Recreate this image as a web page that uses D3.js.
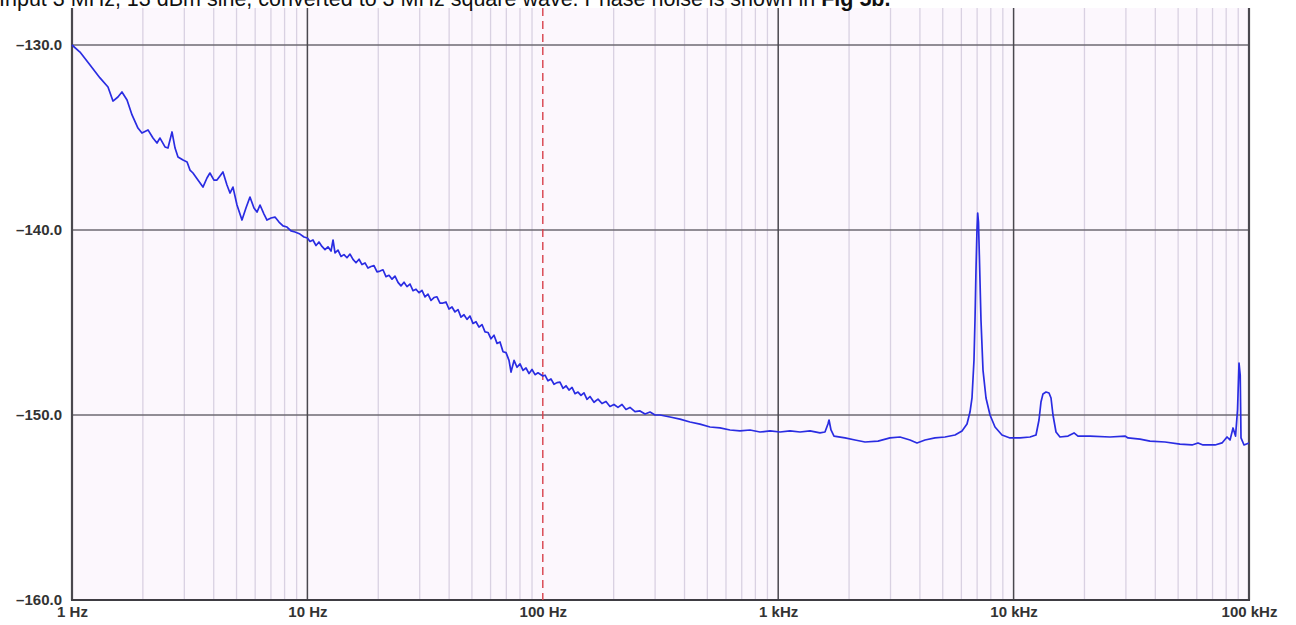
<!DOCTYPE html>
<html>
<head>
<meta charset="utf-8">
<script src="https://cdn.jsdelivr.net/npm/d3@7/dist/d3.min.js"></script>
<style>
  html, body { margin: 0; padding: 0; background: #ffffff; overflow: hidden; }
  svg { display: block; }
</style>
</head>
<body>
<svg id="chart" width="1296" height="625"></svg>
<script>
// ---- Data ----
const titleText = "Input 3 MHz, 13 dBm sine, converted to 3 MHz square wave. Phase noise is shown in ";
const titleBold = "Fig 5b.";

const yTicks = [-160, -150, -140, -130];
const yTickLabels = ["–160.0", "–150.0", "–140.0", "–130.0"];
const xMajorTicks = [1, 10, 100, 1000, 10000, 100000];
const xTickLabels = ["1 Hz", "10 Hz", "100 Hz", "1 kHz", "10 kHz", "100 kHz"];
const markerFreq = 100;

// frequency (Hz)
const freqHz = [
  1.000, 1.081, 1.193, 1.315, 1.422, 1.493, 1.567, 1.630, 1.713, 1.799,
  1.906, 1.982, 2.103, 2.208, 2.296, 2.365, 2.484, 2.557, 2.660, 2.740,
  2.820, 2.963, 3.082, 3.171, 3.265, 3.428, 3.600, 3.744, 3.854, 4.009,
  4.128, 4.253, 4.378, 4.553, 4.690, 4.829, 5.022, 5.273, 5.483, 5.702,
  5.930, 6.108, 6.291, 6.541, 6.736, 7.004, 7.284, 7.575, 7.877, 8.191,
  8.518, 8.858, 9.300, 9.671,
  10.00, 10.26, 10.56, 10.88, 11.20, 11.53, 11.88, 12.23, 12.60, 12.85,
  13.10, 13.49, 13.89, 14.30, 14.73, 15.17, 15.62, 16.09, 16.57, 17.06,
  17.57, 18.09, 18.63, 19.18, 19.76, 20.34, 20.95, 21.57, 22.22, 22.88,
  23.56, 24.26, 24.98, 25.73, 26.49, 27.28, 28.09, 28.93, 29.79, 30.67,
  31.59, 32.53, 33.50, 34.49, 35.52, 36.58, 37.67, 38.79, 39.94, 41.14,
  42.36, 43.62, 44.92, 46.26, 47.64, 49.05, 50.51, 52.02, 53.58, 55.17,
  56.82, 58.51, 60.26, 62.05, 63.90, 65.80, 67.77, 69.79, 71.86, 73.29,
  75.47, 77.71, 80.03, 82.41, 84.86, 87.39, 89.99, 92.67, 95.42,
  100.0, 102.2, 105.2, 108.3, 111.6, 114.9, 118.3, 121.9, 125.5, 129.2,
  133.1, 137.0, 141.1, 145.3, 149.6, 154.1, 158.7, 165.0, 171.6, 178.4,
  185.5, 192.9, 200.6, 208.6, 217.0, 225.6, 234.6, 246.4, 258.8, 271.8,
  285.4, 299.7, 314.8,
  347.0, 382.6, 421.9, 465.3, 513.2, 565.9, 624.2, 688.2, 759.0, 837.0,
  923.0, 1018, 1122, 1238, 1365, 1505, 1580, 1627, 1644, 1676,
  1726, 1922, 2120, 2338, 2655, 2985, 3291, 3630, 3887, 4204,
  4636, 5112, 5638, 6037, 6339, 6528, 6657, 6788, 6855, 6922,
  6989, 7038, 7093, 7162, 7268, 7413, 7634, 7940, 8337, 8926,
  9654, 10650, 11740, 12450, 12820, 13070, 13330, 13730, 14140, 14420,
  14700, 15140, 15740, 17030, 18060, 18770, 21120, 25670, 29730, 30620,
  34430, 37960, 43980, 50920, 57280, 60720, 63780, 71730, 76810, 80660,
  83070, 85540, 87650, 89380, 90700, 91770, 92480, 95240, 100000
];

// phase noise (dBc/Hz)
const noiseDb = [
  -130.00, -130.38, -131.08, -131.78, -132.27, -133.03, -132.81, -132.54, -132.97, -133.78,
  -134.49, -134.76, -134.59, -135.03, -135.30, -135.03, -135.51, -135.57, -134.70, -135.57,
  -136.05, -136.22, -136.32, -136.76, -136.92, -137.30, -137.68, -137.19, -136.92, -137.30,
  -137.30, -137.08, -136.86, -137.57, -138.00, -137.68, -138.65, -139.46, -138.81, -138.22,
  -138.81, -139.03, -138.65, -139.14, -139.46, -139.35, -139.30, -139.57, -139.78, -139.84,
  -140.05, -140.11, -140.22, -140.38,
  -140.43, -140.62, -140.54, -140.84, -140.65, -140.89, -141.06, -140.91, -141.14, -140.54,
  -141.24, -141.09, -141.43, -141.33, -141.50, -141.30, -141.59, -141.77, -141.58, -141.87,
  -141.78, -142.06, -141.97, -141.92, -142.26, -142.22, -142.15, -142.52, -142.45, -142.66,
  -142.49, -142.83, -143.02, -142.82, -143.06, -142.92, -143.28, -143.20, -143.39, -143.26,
  -143.62, -143.47, -143.81, -143.65, -143.61, -143.95, -143.95, -143.89, -144.27, -144.16,
  -144.43, -144.30, -144.71, -144.58, -144.83, -144.65, -145.05, -144.96, -145.25, -145.11,
  -145.51, -145.54, -145.88, -145.69, -146.13, -146.05, -146.58, -146.63, -147.05, -147.68,
  -147.05, -147.42, -147.24, -147.59, -147.46, -147.76, -147.54, -147.82, -147.72,
  -147.89, -147.85, -148.15, -148.05, -148.34, -148.25, -148.22, -148.56, -148.42, -148.65,
  -148.51, -148.85, -148.76, -148.94, -148.80, -149.15, -149.00, -149.31, -149.14, -149.38,
  -149.27, -149.54, -149.43, -149.59, -149.43, -149.70, -149.59, -149.82, -149.78, -149.95,
  -149.84, -150.00, -150.00,
  -150.11, -150.22, -150.38, -150.49, -150.65, -150.70, -150.81, -150.86, -150.81, -150.92,
  -150.86, -150.92, -150.86, -150.92, -150.86, -150.97, -150.92, -150.49, -150.27, -150.81,
  -151.14, -151.24, -151.35, -151.46, -151.41, -151.24, -151.19, -151.35, -151.51, -151.35,
  -151.24, -151.19, -151.08, -150.86, -150.49, -149.84, -149.08, -147.03, -144.86, -142.16,
  -140.00, -139.08, -139.57, -141.62, -144.86, -147.57, -149.08, -150.00, -150.65, -151.08,
  -151.24, -151.24, -151.19, -151.08, -150.27, -149.30, -148.86, -148.76, -148.81, -149.08,
  -150.00, -150.92, -151.19, -151.14, -150.97, -151.14, -151.14, -151.19, -151.14, -151.24,
  -151.30, -151.41, -151.46, -151.57, -151.62, -151.51, -151.62, -151.62, -151.51, -151.19,
  -151.35, -150.70, -151.14, -149.73, -147.19, -147.84, -151.24, -151.62, -151.51
];

// ---- Drawing ----
const svg = d3.select("#chart");
const plotLeft = 72, plotRight = 1249, plotTop = 8, plotBottom = 600;
const fontFamily = "Liberation Sans, Arial, sans-serif";

const x = d3.scaleLog().domain([1, 100000]).range([plotLeft, plotRight]);
const y = d3.scaleLinear().domain([-160, -130]).range([plotBottom, 45]);

// plot background
svg.append("rect")
  .attr("x", plotLeft).attr("y", plotTop)
  .attr("width", plotRight - plotLeft).attr("height", plotBottom - plotTop)
  .attr("fill", "#fcf7fd");

// minor vertical grid
const minorTicks = [];
for (let d = 1; d < 100000; d *= 10) {
  for (let k = 2; k <= 9; k++) minorTicks.push(d * k);
}
svg.append("g").selectAll("line").data(minorTicks).join("line")
  .attr("x1", d => x(d)).attr("x2", d => x(d))
  .attr("y1", plotTop).attr("y2", plotBottom)
  .attr("stroke", "#d9d1e2").attr("stroke-width", 1.3);

// major horizontal grid
svg.append("g").selectAll("line").data(yTicks.filter(v => v > -160)).join("line")
  .attr("x1", plotLeft).attr("x2", plotRight)
  .attr("y1", d => y(d)).attr("y2", d => y(d))
  .attr("stroke", "#6e6a72").attr("stroke-width", 1.5);

// major vertical grid (the 100 Hz decade is drawn only by the red marker)
svg.append("g").selectAll("line").data(xMajorTicks.filter(d => d !== markerFreq)).join("line")
  .attr("x1", d => x(d)).attr("x2", d => x(d))
  .attr("y1", plotTop).attr("y2", plotBottom)
  .attr("stroke", "#4a484e")
  .attr("stroke-width", d => (d === 1 || d === 100000) ? 2.2 : 1.5);

// bottom axis line
svg.append("line")
  .attr("x1", plotLeft - 1).attr("x2", plotRight + 1)
  .attr("y1", plotBottom).attr("y2", plotBottom)
  .attr("stroke", "#3e3c42").attr("stroke-width", 2.2);

// red dashed marker
svg.append("line")
  .attr("x1", x(markerFreq)).attr("x2", x(markerFreq))
  .attr("y1", plotTop).attr("y2", plotBottom)
  .attr("stroke", "#d8404c").attr("stroke-width", 1.4)
  .attr("stroke-dasharray", "8,5");

// data line
const data = freqHz.map((f, i) => ({ f, v: noiseDb[i] }));
const line = d3.line().x(d => x(d.f)).y(d => y(d.v)).curve(d3.curveLinear);
svg.append("path")
  .datum(data)
  .attr("d", line)
  .attr("fill", "none")
  .attr("stroke", "#2a2ce2")
  .attr("stroke-width", 1.7)
  .attr("stroke-linejoin", "round");

// axes (labels only)
const yAxis = d3.axisLeft(y).tickValues(yTicks).tickSize(0).tickPadding(0)
  .tickFormat((d, i) => yTickLabels[i]);
const gy = svg.append("g").attr("transform", `translate(${plotLeft - 10},0)`).call(yAxis);
gy.select(".domain").remove();
gy.selectAll("text")
  .attr("font-family", fontFamily)
  .attr("font-size", 15).attr("font-weight", "bold").attr("fill", "#333");

const xAxis = d3.axisBottom(x).tickValues(xMajorTicks).tickSize(0).tickPadding(0)
  .tickFormat((d, i) => xTickLabels[i]);
const gx = svg.append("g").attr("transform", `translate(0,${plotBottom + 6})`).call(xAxis);
gx.select(".domain").remove();
gx.selectAll("text")
  .attr("font-family", fontFamily)
  .attr("font-size", 15).attr("font-weight", "bold").attr("fill", "#333");

// title line, clipped at the very top as in the reference
const t = svg.append("text")
  .attr("x", -1).attr("y", 6)
  .attr("font-family", fontFamily)
  .attr("font-size", 21.5).attr("fill", "#111");
t.append("tspan").text(titleText);
t.append("tspan").attr("font-weight", "bold").text(titleBold);
</script>
</body>
</html>
